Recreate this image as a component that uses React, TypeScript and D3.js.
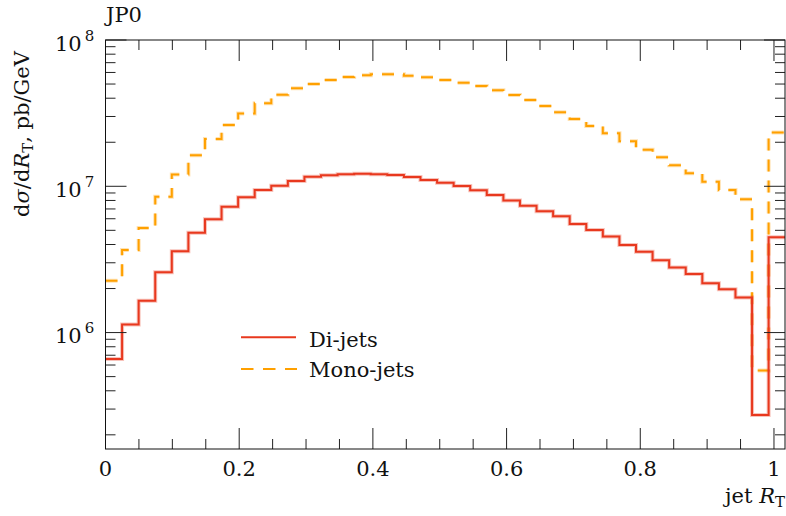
import React from 'react';
import * as d3 from 'd3';

// ---- data ----
const binWidth = 0.0248;
const diJets = [
  6.6e5, 1.135e6, 1.65e6, 2.58e6, 3.6e6, 4.82e6, 5.95e6, 7.26e6, 8.41e6, 9.44e6,
  1.01e7, 1.087e7, 1.164e7, 1.19e7, 1.208e7, 1.22e7, 1.208e7, 1.195e7, 1.158e7, 1.105e7,
  1.059e7, 1.005e7, 9.4e6, 8.73e6, 7.98e6, 7.37e6, 6.75e6, 6.24e6, 5.52e6, 5.03e6,
  4.53e6, 3.97e6, 3.57e6, 3.12e6, 2.78e6, 2.51e6, 2.17e6, 1.98e6, 1.74e6, 2.73e5,
  4.48e6,
];
const monoJets = [
  2.26e6, 3.67e6, 5.19e6, 8.49e6, 1.202e7, 1.632e7, 2.105e7, 2.62e7, 3.15e7, 3.69e7,
  4.23e7, 4.68e7, 5.0e7, 5.33e7, 5.59e7, 5.74e7, 5.83e7, 5.83e7, 5.7e7, 5.56e7,
  5.33e7, 5.11e7, 4.85e7, 4.53e7, 4.21e7, 3.89e7, 3.54e7, 3.21e7, 2.88e7, 2.58e7,
  2.3e7, 2.03e7, 1.78e7, 1.58e7, 1.39e7, 1.228e7, 1.075e7, 9.44e6, 8.15e6, 5.5e5,
  2.33e7,
];
const seriesNames = ['Di-jets', 'Mono-jets'];
const xMajorTicks = [0, 0.2, 0.4, 0.6, 0.8, 1];
const xTickLabels = ['0', '0.2', '0.4', '0.6', '0.8', '1'];
const xMinorStep = 0.05;
const yMajorTicks = [1e6, 1e7, 1e8];
const yTickExponents = ['6', '7', '8'];
const xDomain = [0, 1.0165];
const yDomain = [1.6e5, 1e8];
const title = 'JP0';

const W = 786;
const H = 516;
const L = 105.5;
const R = 785;
const T = 40;
const B = 449;

const RED = '#e8381e';
const ORANGE = '#ffa000';
const FONT =
  "'DejaVu Serif', 'Liberation Serif', 'Noto Serif', Tinos, 'Times New Roman', Times, FreeSerif, serif";

export default function App() {
  const x = d3.scaleLinear().domain(xDomain).range([L, R]);
  const y = d3.scaleLog().domain(yDomain).range([B, T]);

  const stepLine = (vals: number[]) => {
    const pts: [number, number][] = vals.map((v, i) => [i * binWidth, v]);
    pts.push([vals.length * binWidth, vals[vals.length - 1]]);
    return d3
      .line<[number, number]>()
      .x((d) => x(d[0]))
      .y((d) => y(d[1]))
      .curve(d3.curveStepAfter)(pts) as string;
  };

  const xMinor = d3.range(0, xDomain[1] + 1e-9, xMinorStep).filter(
    (v) => !xMajorTicks.some((m) => Math.abs(m - v) < 1e-6)
  );
  const yMinor: number[] = [];
  for (let e = 5; e <= 7; e++) {
    for (let k = 2; k <= 9; k++) {
      const v = k * Math.pow(10, e);
      if (v >= yDomain[0] && v <= yDomain[1]) yMinor.push(v);
    }
  }

  const majLen = 21;
  const minLen = 10;
  const tickStroke = '#222';
  const textStyle = { fontFamily: FONT };

  return (
    <svg
      width={W}
      height={H}
      style={{ position: 'absolute', left: 0, top: 0, background: '#fff', fontFamily: FONT }}
    >
      <defs>
        <clipPath id="plotclip">
          <rect x={L} y={T} width={R - L} height={B - T} />
        </clipPath>
      </defs>

      {/* curves */}
      <g clipPath="url(#plotclip)" fill="none">
        <path d={stepLine(monoJets)} stroke={ORANGE} strokeOpacity={0.3} strokeWidth={4} strokeDasharray="12,9" />
        <path d={stepLine(monoJets)} stroke={ORANGE} strokeWidth={2} strokeDasharray="12,9" />
        <path d={stepLine(diJets)} stroke={RED} strokeOpacity={0.3} strokeWidth={4} />
        <path d={stepLine(diJets)} stroke={RED} strokeWidth={2} />
      </g>

      {/* ticks */}
      <g stroke={tickStroke} strokeWidth={1}>
        {xMajorTicks.map((t) => (
          <g key={'xM' + t}>
            <line x1={x(t)} x2={x(t)} y1={B} y2={B - majLen} />
            <line x1={x(t)} x2={x(t)} y1={T} y2={T + majLen} />
          </g>
        ))}
        {xMinor.map((t) => (
          <g key={'xm' + t}>
            <line x1={x(t)} x2={x(t)} y1={B} y2={B - minLen} />
            <line x1={x(t)} x2={x(t)} y1={T} y2={T + minLen} />
          </g>
        ))}
        {yMajorTicks.map((t) => (
          <g key={'yM' + t}>
            <line x1={L} x2={L + majLen} y1={y(t)} y2={y(t)} />
            <line x1={R} x2={R - majLen} y1={y(t)} y2={y(t)} />
          </g>
        ))}
        {yMinor.map((t) => (
          <g key={'ym' + t}>
            <line x1={L} x2={L + minLen} y1={y(t)} y2={y(t)} />
            <line x1={R} x2={R - minLen} y1={y(t)} y2={y(t)} />
          </g>
        ))}
      </g>

      {/* frame */}
      <rect x={L} y={T} width={R - L} height={B - T} fill="none" stroke="#111" strokeWidth={1} />

      {/* x tick labels */}
      {xMajorTicks.map((t, i) => (
        <text key={'xl' + t} x={x(t)} y={476} fontSize={21} textAnchor="middle" fill="#111" style={textStyle}>
          {xTickLabels[i]}
        </text>
      ))}

      {/* y tick labels */}
      {yMajorTicks.map((t, i) => (
        <text key={'yl' + t} x={55} y={y(t) + 10.7} fontSize={21} fill="#111" style={textStyle}>
          10
          <tspan dx={3} dy={-10} fontSize={15}>
            {yTickExponents[i]}
          </tspan>
        </text>
      ))}

      {/* title */}
      <text x={106} y={22} fontSize={21} fill="#111" style={textStyle}>
        {title}
      </text>

      {/* x label */}
      <text x={785} y={503} fontSize={21} textAnchor="end" fill="#111" style={textStyle}>
        jet <tspan fontStyle="italic">R</tspan>
        <tspan fontSize={15} dy={4}>T</tspan>
      </text>

      {/* y label */}
      <text
        transform="translate(29,134) rotate(-90)"
        fontSize={21}
        textAnchor="middle"
        fill="#111"
        style={textStyle}
      >
        d<tspan fontStyle="italic">σ</tspan>/d<tspan fontStyle="italic">R</tspan>
        <tspan fontSize={15} dy={4}>T</tspan>
        <tspan dy={-4}>, pb/GeV</tspan>
      </text>

      {/* legend */}
      <g>
        <line x1={241} x2={296} y1={337.3} y2={337.3} stroke={RED} strokeWidth={2} />
        <text x={309} y={346.7} fontSize={21} fill="#111" style={textStyle}>
          {seriesNames[0]}
        </text>
        <line x1={241} x2={297} y1={369} y2={369} stroke={ORANGE} strokeWidth={2} strokeDasharray="12.5,9.5" />
        <text x={309} y={376.7} fontSize={21} fill="#111" style={textStyle}>
          {seriesNames[1]}
        </text>
      </g>
    </svg>
  );
}
